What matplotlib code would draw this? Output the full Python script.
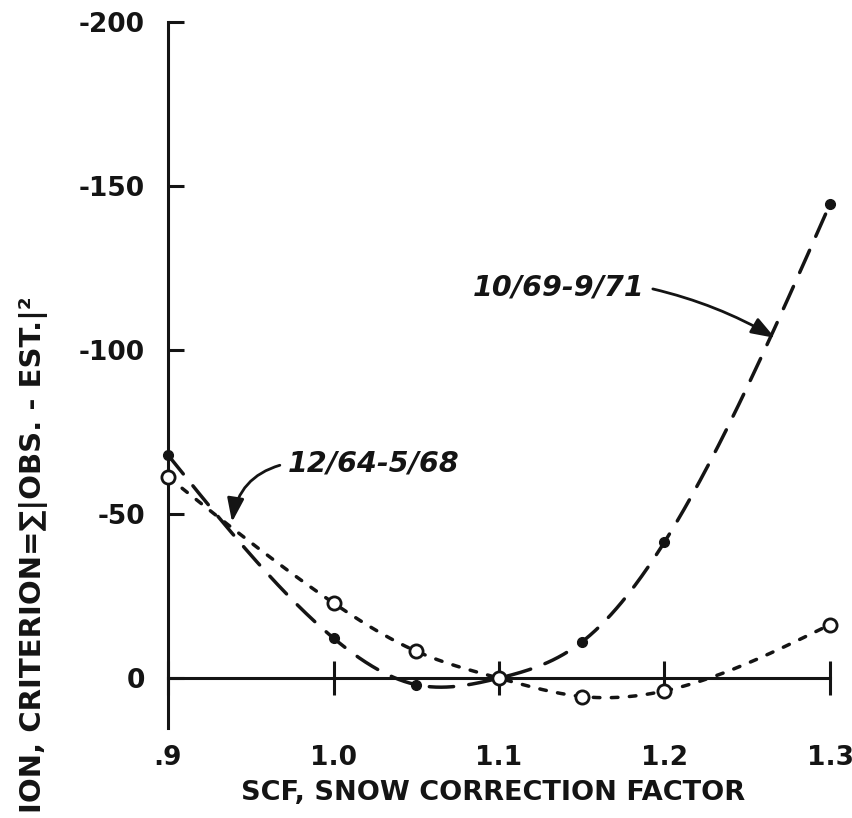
import numpy as np
import matplotlib
matplotlib.use("Agg")
import matplotlib.pyplot as plt

# ---- data ----
scf = [0.9, 1.0, 1.05, 1.1, 1.15, 1.2, 1.3]
# plotted values (axis labelled negative upward)
crit_1069_971 = [-68.0, -12.2, 2.0, 0.0, -11.0, -41.5, -144.5]
crit_1264_568 = [-61.3, -22.9, -8.2, 0.0, 5.6, 3.9, -16.3]
xticks = [0.9, 1.0, 1.1, 1.2, 1.3]
xtick_labels = [".9", "1.0", "1.1", "1.2", "1.3"]
yticks = [0, -50, -100, -150, -200]
ytick_labels = ["0", "-50", "-100", "-150", "-200"]
label_a = "10/69-9/71"
label_b = "12/64-5/68"


def natural_spline(x, y, xs):
    x = np.asarray(x, float)
    y = np.asarray(y, float)
    n = len(x)
    h = np.diff(x)
    A = np.zeros((n, n))
    b = np.zeros(n)
    A[0, 0] = 1
    A[-1, -1] = 1
    for i in range(1, n - 1):
        A[i, i - 1] = h[i - 1]
        A[i, i] = 2 * (h[i - 1] + h[i])
        A[i, i + 1] = h[i]
        b[i] = 3 * ((y[i + 1] - y[i]) / h[i] - (y[i] - y[i - 1]) / h[i - 1])
    c = np.linalg.solve(A, b)
    bb = (y[1:] - y[:-1]) / h - h * (2 * c[:-1] + c[1:]) / 3
    d = (c[1:] - c[:-1]) / (3 * h)
    idx = np.clip(np.searchsorted(x, xs) - 1, 0, n - 2)
    t = xs - x[idx]
    return y[idx] + bb[idx] * t + c[idx] * t ** 2 + d[idx] * t ** 3


INK = "#141414"
plt.rcParams["font.family"] = ["DejaVu Sans"]
plt.rcParams["font.weight"] = "bold"

fig = plt.figure(figsize=(8.53, 8.18), dpi=100)
ax = fig.add_axes([168 / 853, (818 - 728) / 818, (830 - 168) / 853, (728 - 22) / 818])
ax.set_xlim(0.9, 1.3)
ax.set_ylim(15.2, -200)

for s in ("top", "right"):
    ax.spines[s].set_visible(False)
ax.spines["bottom"].set_position(("data", 0))
for s in ("left", "bottom"):
    ax.spines[s].set_linewidth(2.2)
    ax.spines[s].set_color(INK)

ax.set_xticks(xticks, xtick_labels)
ax.set_yticks(yticks, ytick_labels)
ax.tick_params(axis="x", direction="inout", length=24.5, width=2.2, pad=36,
               labelsize=19, colors=INK)
ax.tick_params(axis="y", direction="in", length=11.5, width=2.2, pad=16.5,
               labelsize=19, colors=INK)
for lab in ax.get_xticklabels() + ax.get_yticklabels():
    lab.set_fontweight("bold")

xs = np.linspace(scf[0], scf[-1], 500)
ax.plot(xs, natural_spline(scf, crit_1069_971, xs), color=INK, lw=2.5,
        dashes=(7, 4.4), dash_capstyle="round", clip_on=False, zorder=3)
ax.plot(xs, natural_spline(scf, crit_1264_568, xs), color=INK, lw=2.5,
        dashes=(1.9, 3.3), dash_capstyle="round", clip_on=False, zorder=3)
ax.plot(scf, crit_1069_971, "o", ms=7, color=INK, clip_on=False, zorder=4)
ax.plot(scf, crit_1264_568, "o", ms=9.5, mfc="white", mec=INK, mew=2,
        clip_on=False, zorder=5)

ax.annotate(label_a, xy=(1.2668, -103.7), xytext=(1.188, -119.2),
            ha="right", va="center", fontsize=20.5, fontweight="bold",
            fontstyle="italic", color=INK,
            arrowprops=dict(arrowstyle="-|>,head_length=0.7,head_width=0.25",
                            color=INK, lw=2, connectionstyle="arc3,rad=-0.08",
                            relpos=(1, 0.5), shrinkA=4, shrinkB=0))
ax.annotate(label_b, xy=(0.9387, -47.6), xytext=(0.9725, -65.5),
            ha="left", va="center", fontsize=20.5, fontweight="bold",
            fontstyle="italic", color=INK,
            arrowprops=dict(arrowstyle="-|>,head_length=0.7,head_width=0.25",
                            color=INK, lw=2, connectionstyle="arc3,rad=0.35",
                            relpos=(0, 0.5), shrinkA=4, shrinkB=0))

fig.text(493 / 853, 1 - 793 / 818, "SCF, SNOW CORRECTION FACTOR",
         ha="center", va="center", fontsize=19.5, fontweight="bold", color=INK)
fig.text(34 / 853, 0.006, "ION, CRITERION=\u2211|OBS. - EST.|\u00b2",
         rotation=90, ha="center", va="bottom", fontsize=21,
         fontweight="bold", color=INK)

fig.savefig("out.png", dpi=100, facecolor="white")
